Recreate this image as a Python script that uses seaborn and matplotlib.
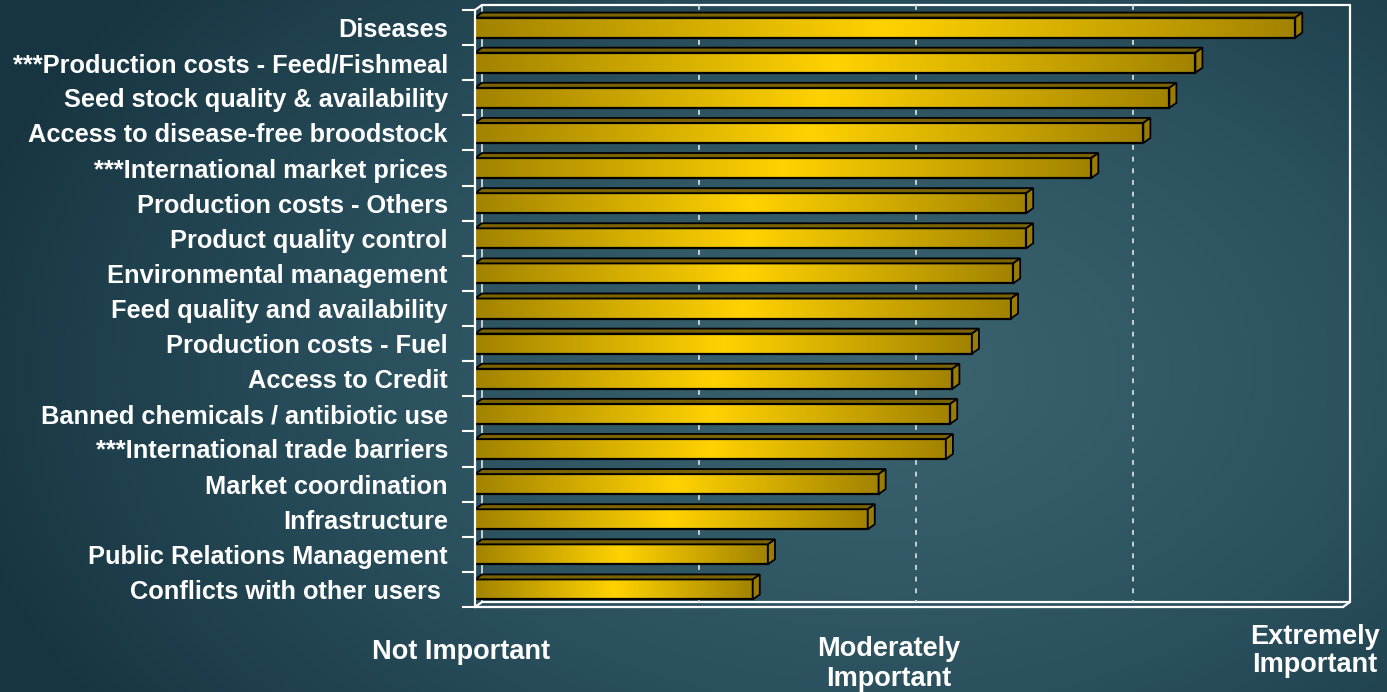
import numpy as np
import pandas as pd
import matplotlib
matplotlib.use("Agg")
import matplotlib.pyplot as plt
import seaborn as sns
from matplotlib.colors import LinearSegmentedColormap
from matplotlib.patches import Polygon

# ---------------------------------------------
# Data (mean importance score, 1-5 scale)
# ---------------------------------------------
factors = [
    "Diseases",
    "***Production costs - Feed/Fishmeal",
    "Seed stock quality & availability",
    "Access to disease-free broodstock",
    "***International market prices",
    "Production costs - Others",
    "Product quality control",
    "Environmental management",
    "Feed quality and availability",
    "Production costs - Fuel",
    "Access to Credit",
    "Banned chemicals / antibiotic use",
    "***International trade barriers",
    "Market coordination",
    "Infrastructure",
    "Public Relations Management",
    "Conflicts with other users ",
]
scores = [4.78, 4.32, 4.20, 4.08, 3.84, 3.54, 3.54, 3.48, 3.47,
          3.29, 3.20, 3.19, 3.17, 2.86, 2.81, 2.35, 2.28]

scale_ticks = [1, 2, 3, 4, 5]
scale_labels = ["Not Important", "Moderately\nImportant", "Extremely\nImportant"]

df = pd.DataFrame({"factor": factors, "score": scores})

# ---------------------------------------------
# Figure + background
# ---------------------------------------------
sns.set_theme(style="white")
plt.rcParams["font.family"] = ["Liberation Sans", "DejaVu Sans"]
plt.rcParams["font.weight"] = "bold"

W, H = 1387, 692
fig = plt.figure(figsize=(W / 100, H / 100), dpi=100)

bg = fig.add_axes([0, 0, 1, 1], zorder=-10)
yy, xx = np.mgrid[0:H, 0:W]
r = np.sqrt(((xx - 880) / 950) ** 2 + ((yy - 370) / 620) ** 2)
r = np.clip(r, 0, 1)
bg_cmap = LinearSegmentedColormap.from_list("bg", ["#3c6470", "#2c5260", "#173541"])
bg.imshow(r, cmap=bg_cmap, aspect="auto", extent=(0, 1, 0, 1), origin="upper")
bg.axis("off")

ax = fig.add_axes([475 / W, (H - 607) / H, (1343 - 475) / W, (607 - 10) / H])
ax.set_facecolor("none")

sns.barplot(data=df, x="score", y="factor", orient="h", width=0.57,
            color="#e0b000", ax=ax, zorder=3)

n = len(factors)
ax.set_xlim(scale_ticks[0], scale_ticks[-1])
ax.set_ylim(n - 0.5, -0.5)
ax.set_autoscale_on(False)

# depth of the 3D look, converted from pixels to data units
dx = 7 / ((1343 - 475) / (scale_ticks[-1] - scale_ticks[0]))
dy = 5 / ((607 - 10) / n)

bar_cmap = LinearSegmentedColormap.from_list("gold", ["#a28300", "#ffd200", "#a28300"])
grad = np.linspace(0, 1, 256)[None, :]

for p in ax.patches:
    x0 = max(p.get_x(), scale_ticks[0])
    x1 = p.get_x() + p.get_width()
    yt = p.get_y()
    yb = yt + p.get_height()

    im = ax.imshow(grad, cmap=bar_cmap, aspect="auto",
                   extent=(x0, x1, yb, yt), zorder=2.5)
    im.set_clip_path(p)
    p.set_facecolor("none")
    p.set_edgecolor("black")
    p.set_linewidth(1.6)

    top = Polygon([(x0, yt), (x1, yt), (x1 + dx, yt - dy), (x0 + dx, yt - dy)],
                  closed=True, facecolor="#7a6300", edgecolor="black",
                  linewidth=1.3, zorder=3.2, clip_on=False)
    side = Polygon([(x1, yt), (x1, yb), (x1 + dx, yb - dy), (x1 + dx, yt - dy)],
                   closed=True, facecolor="#9a7d00", edgecolor="black",
                   linewidth=1.3, zorder=3.2, clip_on=False)
    ax.add_patch(top)
    ax.add_patch(side)

# back wall frame + dotted grid
lo, hi = scale_ticks[0], scale_ticks[-1]
ytop, ybot = -0.5, n - 0.5
wall = dict(color="white", linewidth=1.6, zorder=1, clip_on=False)
ax.plot([lo + dx, hi + dx], [ytop - dy, ytop - dy], **wall)
ax.plot([hi + dx, hi + dx], [ytop - dy, ybot - dy], **wall)
ax.plot([lo + dx, hi + dx], [ybot - dy, ybot - dy], **wall)
ax.plot([lo + dx, lo + dx], [ytop - dy, ybot - dy], color="#c8cfd0", linewidth=1.4, zorder=1, clip_on=False)
ax.plot([lo, lo + dx], [ytop, ytop - dy], **wall)
ax.plot([hi, hi + dx], [ybot, ybot - dy], **wall)
ax.plot([lo, lo + dx], [ybot, ybot - dy], **wall)
for t in scale_ticks[1:-1]:
    ax.plot([t + dx, t + dx], [ytop - dy, ybot - dy], color="#c9d0d0",
            linewidth=1.4, linestyle=(0, (2.5, 3.5)), zorder=1, clip_on=False)

# front axes
sns.despine(ax=ax, top=True, right=True)
for s in ["left", "bottom"]:
    ax.spines[s].set_color("white")
    ax.spines[s].set_linewidth(1.6)
    ax.spines[s].set_zorder(4)

ax.set_xticks(scale_ticks)
ax.set_xticklabels([])
ax.tick_params(axis="x", direction="out", length=10, width=1.5, color="white")
ax.set_yticks(np.arange(-0.5, n, 1.0), minor=True)
ax.tick_params(axis="y", which="minor", direction="out", length=9.5, width=1.5, color="white", left=True)
ax.tick_params(axis="y", which="major", length=0, pad=19.5, labelsize=18.3, labelcolor="white", left=True)
for lab in ax.get_yticklabels():
    lab.set_fontweight("bold")
ax.set_xlabel("")
ax.set_ylabel("")

# scale labels under the axis
label_pos = [(461, 652), (889, 664), (1315, 651)]
for txt, (px, py) in zip(scale_labels, label_pos):
    fig.text(px / W, 1 - py / H, txt, ha="center", va="center", color="white",
             fontsize=19.5, fontweight="bold", linespacing=1.15)

fig.savefig("out.png", dpi=100)
